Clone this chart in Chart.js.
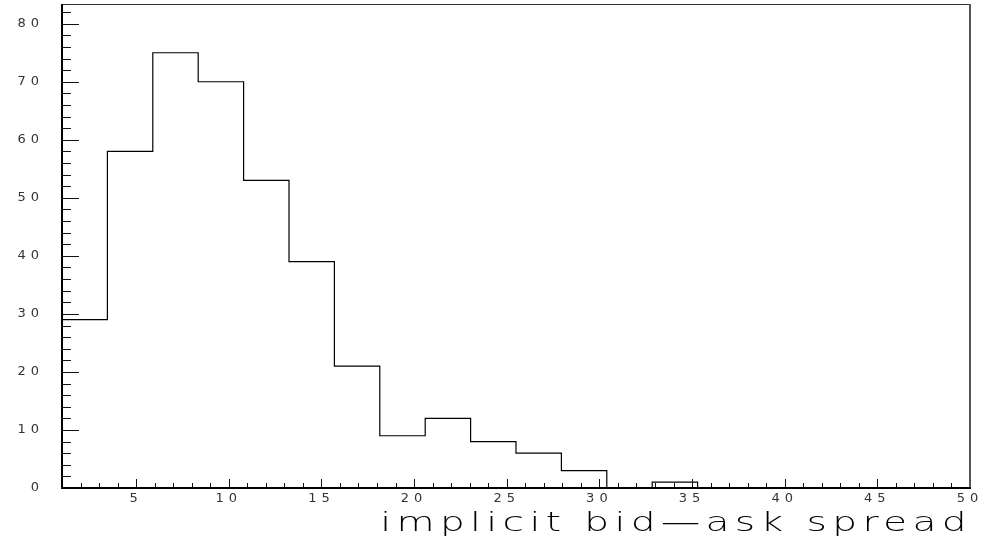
<!DOCTYPE html>
<html>
<head>
<meta charset="utf-8">
<script src="https://cdn.jsdelivr.net/npm/chart.js@4"></script>
<style>
  html, body { margin: 0; padding: 0; background: #fff; }
  #wrap { width: 985px; height: 540px; position: relative; }
</style>
</head>
<body>
<div id="wrap"><canvas id="chart"></canvas></div>
<script>
// bin edges of the histogram (20 bins from 1 to 50)
const binEdges = [1, 3.45, 5.9, 8.35, 10.8, 13.25, 15.7, 18.15, 20.6, 23.05, 25.5,
  27.95, 30.4, 32.85, 35.3, 37.75, 40.2, 42.65, 45.1, 47.55, 50]
const counts = [29, 58, 75, 70, 53, 39, 21, 9, 12, 8, 6, 3, 0, 1, 0, 0, 0, 0, 0, 0]
const xLabel = "implicit bid\u2014ask spread"

const FONT = '"DejaVu Sans", sans-serif'

// step outline: one point per bin left edge, closing at the last edge
const points = counts.map((c, i) => ({ x: binEdges[i], y: c }))
points.push({ x: binEdges[binEdges.length - 1], y: 0 })

const spacingPlugin = {
  id: "spacing",
  beforeDraw(chart) {
    chart.ctx.letterSpacing = "5px"
  }
}

// PAW-like frame with inward tick marks
const framePlugin = {
  id: "frame",
  afterDraw(chart) {
    const { ctx, chartArea: a, scales } = chart
    const x = scales.x, y = scales.y
    ctx.save()
    ctx.strokeStyle = "#111"

    ctx.lineWidth = 1
    for (let v = 0; v <= 82; v += 2) {
      const py = Math.round(y.getPixelForValue(v)) + 0.5
      const len = v % 10 === 0 ? 17 : 9
      ctx.beginPath()
      ctx.moveTo(a.left, py)
      ctx.lineTo(a.left + len, py)
      ctx.stroke()
    }
    for (let v = 1; v <= 50; v += 1) {
      const px = Math.round(x.getPixelForValue(v)) + 0.5
      const len = v % 5 === 0 ? 9 : 5
      ctx.beginPath()
      ctx.moveTo(px, a.bottom)
      ctx.lineTo(px, a.bottom - len)
      ctx.stroke()
    }

    // top line
    ctx.strokeStyle = "#333"
    ctx.beginPath()
    ctx.moveTo(a.left, a.top + 0.5)
    ctx.lineTo(a.right, a.top + 0.5)
    ctx.stroke()
    // right line
    ctx.strokeStyle = "#555"
    ctx.lineWidth = 2
    ctx.beginPath()
    ctx.moveTo(a.right, a.top)
    ctx.lineTo(a.right, a.bottom)
    ctx.stroke()
    // left + bottom axes
    ctx.strokeStyle = "#000"
    ctx.beginPath()
    ctx.moveTo(a.left, a.top)
    ctx.lineTo(a.left, a.bottom)
    ctx.lineTo(a.right + 1, a.bottom)
    ctx.stroke()

    // axis title, right aligned under the axis, wide letters like the original
    const sx = 1.45
    ctx.fillStyle = "#000"
    ctx.font = "200 27px " + FONT
    ctx.letterSpacing = "3.7px"
    ctx.textAlign = "right"
    ctx.textBaseline = "alphabetic"
    ctx.translate(a.right + 2, 531)
    ctx.scale(sx, 1)
    ctx.fillText(xLabel, 0, 0)
    ctx.restore()
  }
}

new Chart(document.getElementById("chart"), {
  type: "line",
  data: {
    datasets: [{
      data: points,
      stepped: "before",
      borderColor: "#000",
      borderWidth: 1.2,
      pointRadius: 0,
      fill: false
    }]
  },
  options: {
    responsive: true,
    maintainAspectRatio: false,
    animation: false,
    devicePixelRatio: 1,
    layout: { padding: { left: 0, right: 15, top: 4, bottom: 0 } },
    plugins: {
      legend: { display: false },
      tooltip: { enabled: false }
    },
    scales: {
      x: {
        type: "linear",
        min: 1,
        max: 50,
        grid: { display: false, drawTicks: false },
        border: { display: false },
        afterFit: (s) => { s.height = 52; s.paddingRight = 0 },
        ticks: {
          stepSize: 5,
          includeBounds: false,
          maxRotation: 0,
          autoSkip: false,
          padding: 3,
          color: "#333",
          font: { family: FONT, size: 13, weight: "normal" }
        }
      },
      y: {
        min: 0,
        max: 83.4,
        grid: { display: false, drawTicks: false },
        border: { display: false },
        afterFit: (s) => { s.width = 62; s.paddingTop = 0; s.paddingBottom = 0 },
        ticks: {
          stepSize: 10,
          includeBounds: false,
          padding: 18,
          color: "#333",
          font: { family: FONT, size: 13, weight: "normal" }
        }
      }
    }
  },
  plugins: [spacingPlugin, framePlugin]
})
</script>
</body>
</html>
